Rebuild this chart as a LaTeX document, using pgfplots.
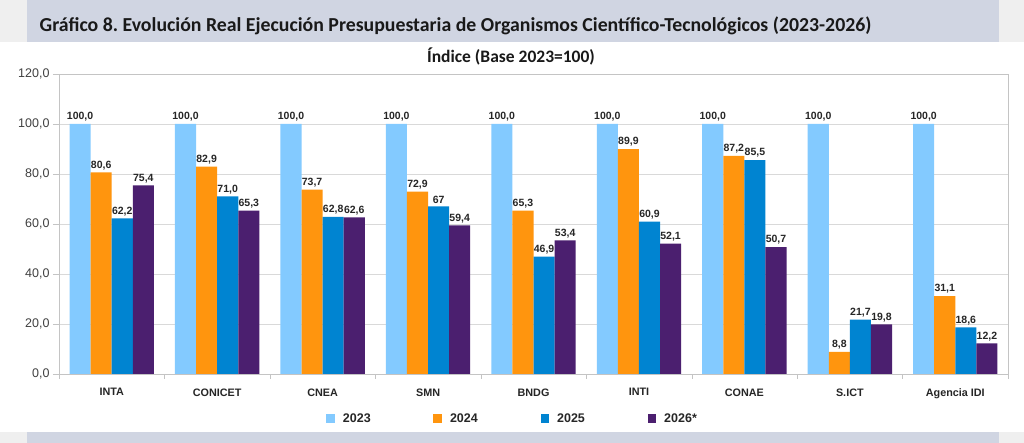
\documentclass[border=0pt]{standalone}
\usepackage{fontspec}
\setmainfont{Liberation Sans}
\newfontfamily\carlito{Carlito}
\usepackage{pgfplots}
\usepackage{pgfplotstable}
\pgfplotsset{compat=1.18}
\frenchspacing
\definecolor{cA}{HTML}{83CAFF}
\definecolor{cB}{HTML}{FF950E}
\definecolor{cC}{HTML}{0084D1}
\definecolor{cD}{HTML}{4B1F6F}
\definecolor{band}{HTML}{D0D5E2}
\definecolor{side}{HTML}{EFEFEF}
\definecolor{gridc}{HTML}{D9D9D9}
\definecolor{axc}{HTML}{C4C4C4}
\pgfplotstableread{
x a la b lb c lc d ld
0 100 100,0 80.6 80,6 62.2 62,2 75.4 75,4
1 100 100,0 82.9 82,9 71.0 71,0 65.3 65,3
2 100 100,0 73.7 73,7 62.8 62,8 62.6 62,6
3 100 100,0 72.9 72,9 67.0 67 59.4 59,4
4 100 100,0 65.3 65,3 46.9 46,9 53.4 53,4
5 100 100,0 89.9 89,9 60.9 60,9 52.1 52,1
6 100 100,0 87.2 87,2 85.5 85,5 50.7 50,7
7 100 100,0 8.8 8,8 21.7 21,7 19.8 19,8
8 100 100,0 31.1 31,1 18.6 18,6 12.2 12,2
}\datatab
\begin{document}
\begin{tikzpicture}[x=1pt,y=1pt]
\useasboundingbox (0,0) rectangle (1024,443);
\fill[white] (0,0) rectangle (1024,443);
\fill[side] (0,401) rectangle (27,443);
\fill[side] (999,401) rectangle (1024,443);
\fill[side] (0,0) rectangle (27,11);
\fill[side] (999,0) rectangle (1024,11);
\fill[band] (27,401) rectangle (999,443);
\fill[band] (27,0) rectangle (999,11);
\node[anchor=base west, inner sep=0pt, text=black!90] at (39.5,411)
  {\carlito\bfseries\fontsize{19.8}{24}\selectfont Gráfico 8. Evolución Real Ejecución Presupuestaria de Organismos Científico-Tecnológicos (2023-2026)};
\node[anchor=base, inner sep=0pt, text=black!90] at (511,380)
  {\carlito\bfseries\fontsize{17.5}{21}\selectfont Índice (Base 2023=100)};
\begin{axis}[
  at={(59pt,69pt)}, anchor=south west,
  scale only axis, width=949pt, height=300pt,
  xmin=-0.5, xmax=8.5, ymin=0, ymax=120,
  ytick={0,20,...,120},
  /pgf/number format/.cd, fixed, fixed zerofill, precision=1, use comma, assume math mode=true,
  /pgfplots/.cd,
  yticklabel style={font=\fontsize{12.5}{14}\selectfont, text=black!75},
  xtick={0,...,8},
  xticklabels={INTA,CONICET,CNEA,SMN,BNDG,INTI,CONAE,S.ICT,Agencia IDI},
  xticklabel style={font=\bfseries\fontsize{10.8}{13}\selectfont, text=black!85, yshift=-5pt},
  minor xtick={-0.5,0.5,...,8.5},
  major x tick style={draw=none},
  minor x tick style={draw=axc},
  minor tick length=5pt,
  major tick length=6pt,
  y tick style={draw=axc},
  tick align=outside, tick pos=left,
  ymajorgrids, grid style={draw=gridc, line width=0.8pt},
  axis line style={draw=axc, line width=0.8pt},
  ybar, bar width=0.2,
  point meta=explicit symbolic,
  nodes near coords,
  nodes near coords style={font=\bfseries\fontsize{10.5}{12}\selectfont, text=black!85, inner sep=2.5pt, anchor=south},
  legend columns=4,
  legend style={at={(0.2815,-0.15)}, anchor=west, draw=none, fill=none, inner sep=0pt,
    font=\bfseries\fontsize{12.5}{14}\selectfont, text=black!85,
    /tikz/every even column/.append style={column sep=0pt}},
  legend image code/.code={\fill[#1] (0pt,-4.5pt) rectangle (8.6pt,4.5pt);},
]
\addplot[fill=cA, draw=none, bar shift=-0.3] table[x=x, y=a, meta=la] {\datatab};
\addplot[fill=cB, draw=none, bar shift=-0.1] table[x=x, y=b, meta=lb] {\datatab};
\addplot[fill=cC, draw=none, bar shift=0.1] table[x=x, y=c, meta=lc] {\datatab};
\addplot[fill=cD, draw=none, bar shift=0.3] table[x=x, y=d, meta=ld] {\datatab};
\legend{\makebox[94.5pt][l]{\hspace{6pt}2023},\makebox[94.5pt][l]{\hspace{6pt}2024},\makebox[94.5pt][l]{\hspace{6pt}2025},\makebox[60pt][l]{\hspace{6pt}2026*}}
\end{axis}
\end{tikzpicture}
\end{document}
